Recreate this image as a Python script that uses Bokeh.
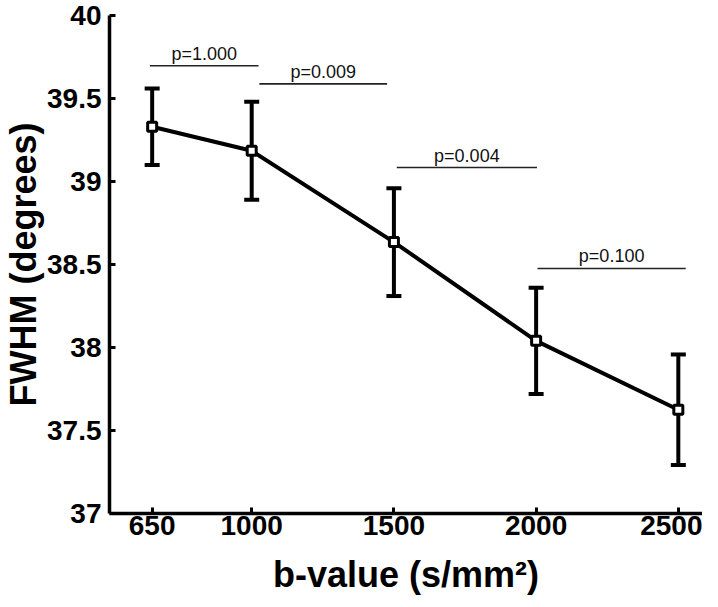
from bokeh.plotting import figure
from bokeh.models import FixedTicker, ColumnDataSource, Range1d
from bokeh.core.properties import value
from bokeh.embed import file_html
from bokeh.resources import INLINE

# ---- data ----
b_values = [650, 1000, 1500, 2000, 2500]
fwhm = [39.33, 39.185, 38.635, 38.04, 37.625]
fwhm_err = [0.23, 0.295, 0.325, 0.32, 0.333]

pair_start = [642, 1027, 1510, 2005]
pair_end = [1024, 1476, 2003, 2526]
pair_level = [39.697, 39.588, 39.084, 38.476]
pair_label = ["p=1.000", "p=0.009", "p=0.004", "p=0.100"]

x_ticks = [650, 1000, 1500, 2000, 2500]
y_ticks = [37, 37.5, 38, 38.5, 39, 39.5, 40]
y_tick_labels = ["37", "37.5", "38", "38.5", "39", "39.5", "40"]

SANS = "'Liberation Sans', Arial, sans-serif"

p = figure(width=702, height=600, output_backend="svg", toolbar_location=None,
           x_range=Range1d(500, 2585), y_range=Range1d(37, 40),
           min_border_left=102, min_border_top=15, min_border_right=0,
           min_border_bottom=87)
p.outline_line_color = None
p.xgrid.grid_line_color = None
p.ygrid.grid_line_color = None
p.background_fill_color = "white"

lower = [m - e for m, e in zip(fwhm, fwhm_err)]
upper = [m + e for m, e in zip(fwhm, fwhm_err)]
src = ColumnDataSource(dict(x=b_values, y=fwhm, lo=lower, hi=upper))

# error bars
p.segment(x0="x", y0="lo", x1="x", y1="hi", source=src, line_color="black", line_width=4)
p.scatter(x="x", y="lo", source=src, marker="dash", size=15, line_color="black", line_width=4)
p.scatter(x="x", y="hi", source=src, marker="dash", size=15, line_color="black", line_width=4)
# mean line
p.line(x="x", y="y", source=src, line_color="black", line_width=4)
p.scatter(x="x", y="y", source=src, marker="square", size=9, fill_color="white",
          line_color="black", line_width=3)

# significance bars
sig = ColumnDataSource(dict(x0=pair_start, x1=pair_end, y=pair_level,
                            xm=[(a + c) / 2 for a, c in zip(pair_start, pair_end)],
                            t=pair_label))
p.segment(x0="x0", y0="y", x1="x1", y1="y", source=sig, line_color="#222222", line_width=1.6)
p.text(x="xm", y="y", text="t", source=sig, text_align="center", text_baseline="bottom",
       y_offset=-2, text_font=value(SANS), text_font_size="18px", text_color="#111111")

# axes
for ax in (p.xaxis[0], p.yaxis[0]):
    ax.axis_line_width = 3.5
    ax.axis_line_color = "black"
    ax.major_tick_line_width = 3
    ax.major_tick_line_color = "black"
    ax.major_tick_in = 6
    ax.major_tick_out = 0
    ax.minor_tick_line_color = None
    ax.major_label_text_font = SANS
    ax.major_label_text_font_style = "bold"
    ax.major_label_text_font_size = "28px"
    ax.major_label_text_color = "black"
    ax.axis_label_text_font = SANS
    ax.axis_label_text_font_style = "bold"
    ax.axis_label_text_font_size = "36px"
    ax.axis_label_text_color = "black"

p.xaxis.ticker = FixedTicker(ticks=x_ticks)
p.yaxis.ticker = FixedTicker(ticks=y_ticks)
p.yaxis.major_label_overrides = {t: s for t, s in zip(y_ticks, y_tick_labels)}
p.xaxis.major_label_standoff = 2
p.yaxis.major_label_standoff = 8
p.xaxis.axis_label = "b-value (s/mm²)"
p.yaxis.axis_label = "FWHM (degrees)"
p.xaxis.axis_label_standoff = 16
p.yaxis.axis_label_standoff = 0

open("out.html", "w").write(file_html(p, INLINE))
